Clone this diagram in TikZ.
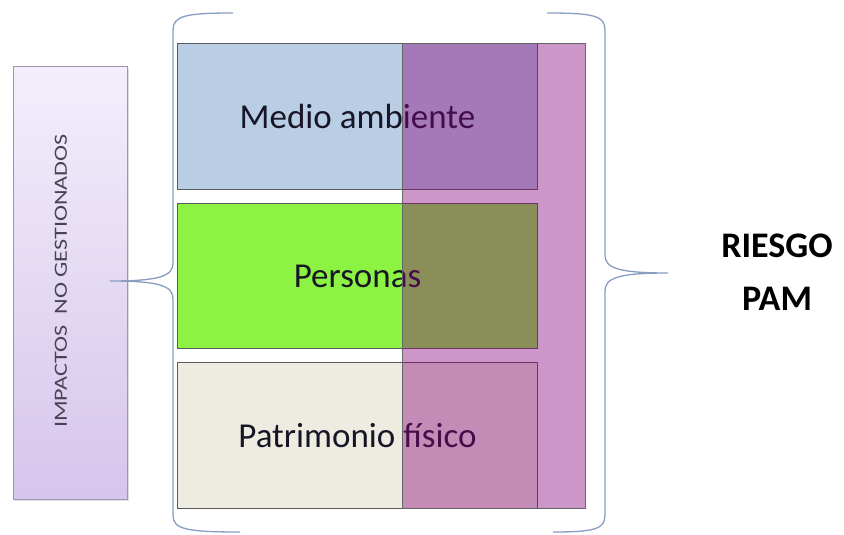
\documentclass[tikz,border=0pt]{standalone}
\usepackage{fontspec}
\usepackage{graphicx}
\setmainfont{Carlito}
\usetikzlibrary{shadows}
\definecolor{boxblue}{RGB}{185,205,229}
\definecolor{boxgreen}{RGB}{140,243,66}
\definecolor{boxbeige}{RGB}{238,236,225}
\definecolor{pinkov}{RGB}{136,5,124}
\definecolor{bracecol}{RGB}{135,158,192}
\definecolor{lavtop}{RGB}{243,238,251}
\definecolor{lavbot}{RGB}{214,197,236}
\definecolor{lavedge}{RGB}{160,148,182}
\definecolor{labeltxt}{RGB}{22,22,38}
\definecolor{sidetxt}{RGB}{70,68,84}
\tikzset{
  areabox/.style={draw=black!65, line width=1pt, inner sep=0pt, anchor=north west,
    minimum width=360pt, minimum height=146pt, text=labeltxt,
    font=\fontsize{35}{42}\selectfont},
  overlay/.style={draw=black!60, line width=1pt, fill=pinkov, fill opacity=0.42,
    inner sep=0pt, anchor=north west, minimum width=183pt, minimum height=465pt},
  sidebox/.style={draw=lavedge, line width=0.8pt, top color=lavtop, bottom color=lavbot,
    inner sep=0pt, anchor=north west, minimum width=114pt, minimum height=433pt,
    drop shadow={opacity=0.25, shadow xshift=1.5pt, shadow yshift=-1.5pt}},
  bracepath/.style={draw=bracecol, line width=1.3pt},
}
\begin{document}
\begin{tikzpicture}[x=1pt,y=-1pt]
\useasboundingbox (0,0) rectangle (844,535);
% left side box
\node[sidebox] (side) at (13,66) {};
\node[rotate=90, text=sidetxt, font=\fontsize{18.6}{22}\selectfont] (sidelabel) at (61,281)
  {\scalebox{1.3}[1]{IMPACTOS\ \ NO GESTIONADOS}};
% three area boxes
\node[areabox, fill=boxblue] (medio) at (177,43) {Medio ambiente};
\node[areabox, fill=boxgreen, minimum height=145pt] (personas) at (177,203) {Personas};
\node[areabox, fill=boxbeige] (patrimonio) at (177,362) {Patrimonio físico};
% translucent overlay
\node[overlay] (pam) at (402,43) {};
% braces
\coordinate (lbtop) at (233,13);
\coordinate (lbtip) at (110,281);
\coordinate (lbbot) at (240,532);
\draw[bracepath] (lbtop) .. controls (185,13) and (173,16) .. (173,30)
  -- (173,263) .. controls (173,276) and (160,281) .. (lbtip)
  .. controls (160,281) and (173,286) .. (173,299)
  -- (173,515) .. controls (173,529) and (185,532) .. (lbbot);
\coordinate (rbtop) at (547,13);
\coordinate (rbtip) at (668,273);
\coordinate (rbbot) at (553,532);
\draw[bracepath] (rbtop) .. controls (595,13) and (605,16) .. (605,30)
  -- (605,255) .. controls (605,268) and (618,273) .. (rbtip)
  .. controls (618,273) and (605,278) .. (605,291)
  -- (605,515) .. controls (605,529) and (595,532) .. (rbbot);
% result label
\node[align=center, text=black, font=\bfseries\fontsize{36}{53}\selectfont, inner sep=0pt]
  (riesgo) at (777,272.5) {RIESGO\\PAM};
\end{tikzpicture}
\end{document}
